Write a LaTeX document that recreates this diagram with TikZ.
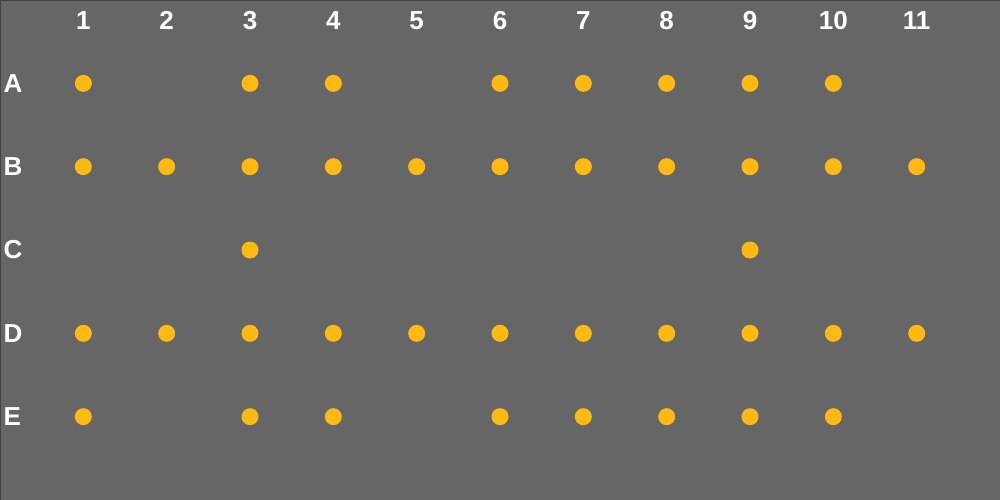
\documentclass[tikz,border=0pt]{standalone}
\usepackage{fontspec}
\setmainfont{Liberation Sans}
\definecolor{panelgray}{HTML}{666666}
\definecolor{edgegray}{HTML}{444444}
\definecolor{seatyellow}{RGB}{255,185,20}
\begin{document}
\begin{tikzpicture}[x=83.333pt, y=-83.333pt,
    dot/.style={circle, fill=seatyellow, minimum size=17pt, inner sep=0pt},
    lbl/.style={text=white, font=\fontsize{26}{30}\selectfont\bfseries, inner sep=0pt}]
    \fill[panelgray] (0,0) rectangle (12,6);
    \useasboundingbox (0,0) rectangle (12,6);
    \draw[edgegray, line width=2pt] (0,6) -- (0,0) -- (12,0);

    % column numbers
    \foreach \c in {1,...,11}
        \node[lbl] (col\c) at (\c,0.245) {\c};
    % row letters
    \foreach \r/\y in {A/1,B/2,C/3,D/4,E/5}
        \node[lbl, anchor=west] (row\r) at (0.04,\y) {\r};

    % seats
    \foreach \c in {1,3,4,6,7,8,9,10} \node[dot] (A\c) at (\c,1) {};
    \foreach \c in {1,...,11} \node[dot] (B\c) at (\c,2) {};
    \foreach \c in {3,9} \node[dot] (C\c) at (\c,3) {};
    \foreach \c in {1,...,11} \node[dot] (D\c) at (\c,4) {};
    \foreach \c in {1,3,4,6,7,8,9,10} \node[dot] (E\c) at (\c,5) {};
\end{tikzpicture}
\end{document}
